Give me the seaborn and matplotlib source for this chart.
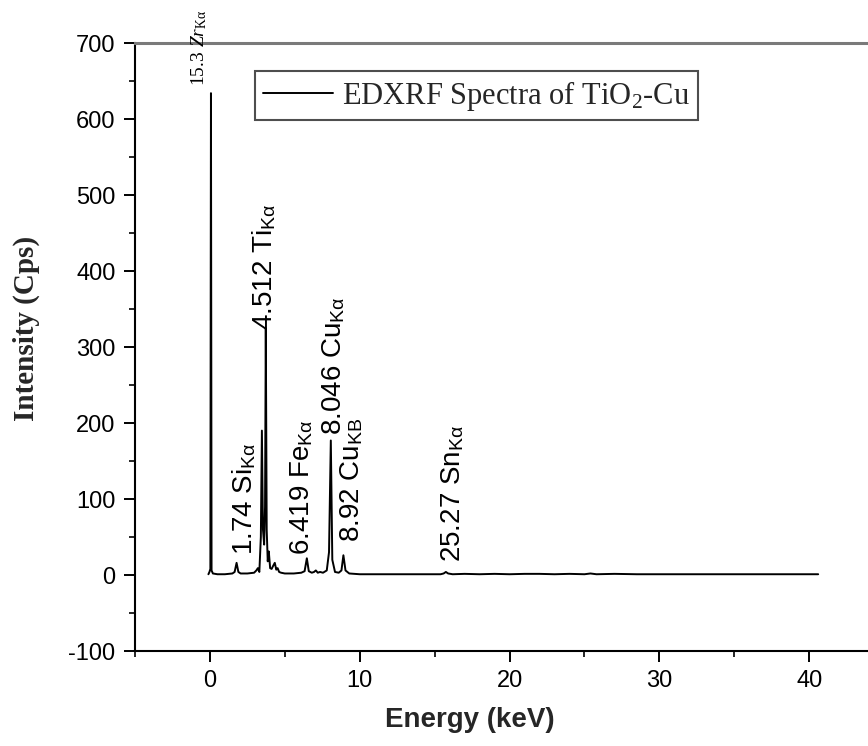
import matplotlib
matplotlib.use("Agg")
import matplotlib.pyplot as plt
from matplotlib.ticker import FixedLocator
import seaborn as sns
import pandas as pd

# EDXRF spectrum of TiO2-Cu (energy in keV, intensity in counts per second)
energy = [-0.10, -0.03, 0.03, 0.07, 0.11, 0.20, 0.50, 1.00, 1.50, 1.65, 1.78, 1.90,
          2.05, 2.50, 2.95, 3.10, 3.20, 3.30, 3.40, 3.47, 3.54, 3.62, 3.68, 3.73,
          3.79, 3.86, 3.93, 4.02, 4.12, 4.22, 4.33, 4.43, 4.52, 4.62, 4.75, 5.00,
          5.60, 6.10, 6.32, 6.47, 6.60, 6.80, 6.95, 7.07, 7.20, 7.35, 7.55, 7.80,
          7.95, 8.07, 8.17, 8.35, 8.60, 8.78, 8.91, 9.05, 9.30, 10.0, 12.0, 14.0,
          15.40, 15.60, 15.75, 15.90, 16.20, 17.0, 18.0, 19.0, 20.0, 21.0, 22.0,
          23.0, 24.0, 25.0, 25.4, 25.8, 27.0, 28.5, 30.0, 32.0, 35.0, 38.0, 40.6]
intensity = [1, 4, 8, 634, 6, 2, 1, 1, 2, 4, 16, 4,
             2, 2, 3, 6, 9, 4, 50, 190, 60, 40, 90, 325,
             60, 18, 31, 9, 8, 12, 16, 7, 9, 4, 3, 2,
             2, 3, 5, 22, 5, 3, 4, 6, 3, 4, 3, 6,
             30, 177, 20, 4, 3, 6, 26, 6, 2, 1, 1, 1,
             1, 2, 4, 2, 1, 1.5, 1, 1.5, 1, 1.5, 1.5,
             1, 1.5, 1, 2, 1, 1.5, 1, 1, 1, 1, 1, 1]

# Peak annotations: text, anchor energy, anchor intensity
peak_labels = [r"1.74 Si$_\mathregular{Kα}$",
               r"4.512 Ti$_\mathregular{Kα}$",
               r"6.419 Fe$_\mathregular{Kα}$",
               r"8.046 Cu$_\mathregular{Kα}$",
               r"8.92 Cu$_\mathregular{KB}$",
               r"25.27 Sn$_\mathregular{Kα}$"]
label_x = [2.3, 3.6, 6.15, 8.27, 9.45, 16.2]
label_y = [26, 322, 26, 184, 43, 17]

zr_label = r"15.3 $Zr_\mathregular{Kα}$"
zr_x, zr_y = -0.7, 643

series_name = r"EDXRF Spectra of TiO$_\mathregular{2}$-Cu"

x_major = [0, 10, 20, 30, 40]
x_minor = [-5, 5, 15, 25, 35, 45]
y_major = [-100, 0, 100, 200, 300, 400, 500, 600, 700]
y_minor = [-50, 50, 150, 250, 350, 450, 550, 650]

sns.set_theme(style="ticks")
plt.rcParams["font.family"] = ["Liberation Sans", "DejaVu Sans"]
plt.rcParams["mathtext.fontset"] = "custom"
plt.rcParams["mathtext.rm"] = "Liberation Sans"
plt.rcParams["mathtext.it"] = "Liberation Serif:italic"
plt.rcParams["axes.unicode_minus"] = False

df = pd.DataFrame({"Energy": energy, "Intensity": intensity})

fig = plt.figure(figsize=(8.68, 7.46), dpi=100)
ax = fig.add_axes([135 / 868, 95 / 746, 824 / 868, 608 / 746])

sns.lineplot(data=df, x="Energy", y="Intensity", ax=ax, color="black",
             linewidth=1.4, estimator=None, sort=False, label=series_name)

ax.set_xlim(-5, 50)
ax.set_ylim(-100, 700)
ax.xaxis.set_major_locator(FixedLocator(x_major))
ax.xaxis.set_minor_locator(FixedLocator(x_minor))
ax.yaxis.set_major_locator(FixedLocator(y_major))
ax.yaxis.set_minor_locator(FixedLocator(y_minor))

ax.tick_params(axis="both", which="major", direction="out", length=8, width=1.4,
               labelsize=17, pad=6, colors="black")
ax.tick_params(axis="both", which="minor", direction="out", length=4.5, width=1.4)

for side in ("left", "bottom"):
    ax.spines[side].set_linewidth(1.5)
    ax.spines[side].set_color("black")
ax.spines["top"].set_linewidth(2.2)
ax.spines["top"].set_color("#7a7a7a")
ax.spines["right"].set_visible(False)

ax.set_xlabel("Energy (keV)", fontsize=20, fontweight="bold")
ax.xaxis.set_label_coords(0.4066, -0.092)
ax.set_ylabel("Intensity (Cps)", fontsize=21, fontweight="bold",
              family="Liberation Serif")
ax.yaxis.set_label_coords(-0.115, 0.531)

for txt, xv, yv in zip(peak_labels, label_x, label_y):
    ax.text(xv, yv, txt, rotation=90, ha="center", va="bottom", fontsize=20,
            color="black")

ax.text(zr_x, zr_y, zr_label, rotation=90, ha="center", va="bottom",
        fontsize=14, family="Liberation Serif", color="black", clip_on=False)

leg = ax.legend(loc="upper left", bbox_to_anchor=((255 - 135) / 824, (651 - 71) / 608),
                borderaxespad=0, fancybox=False, frameon=True, handlelength=2.3,
                prop={"family": "Liberation Serif", "size": 22},
                borderpad=0.25, handletextpad=0.3)
leg.get_frame().set_edgecolor("#222222")
leg.get_frame().set_linewidth(1.5)

fig.savefig("out.png", dpi=100)
